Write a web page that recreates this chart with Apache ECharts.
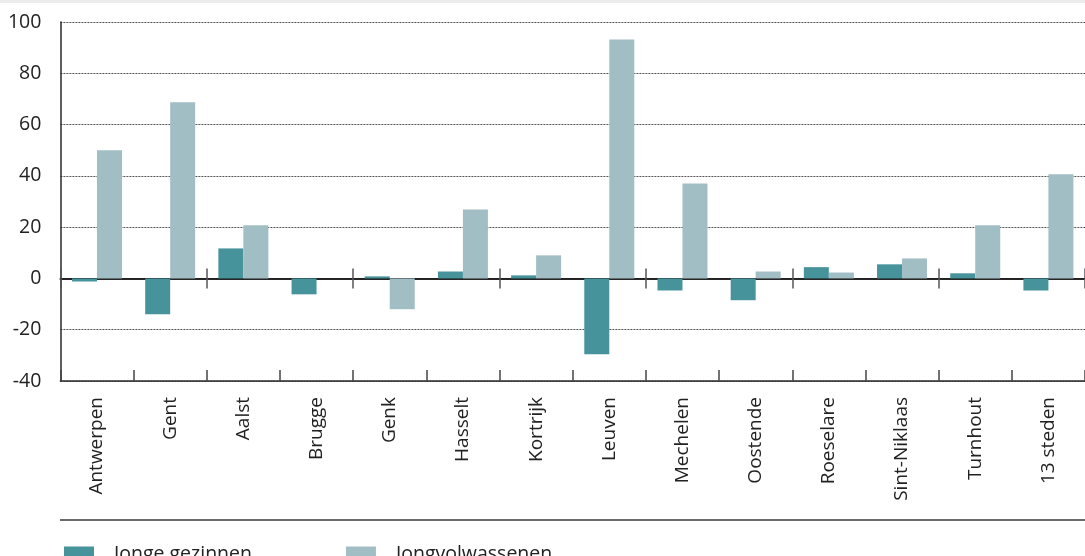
<!DOCTYPE html>
<html>
<head>
<meta charset="utf-8">
<script src="https://cdn.jsdelivr.net/npm/echarts@6/dist/echarts.min.js"></script>
<style>
html,body{margin:0;padding:0;background:#fff;}
#chart{width:1085px;height:556px;}
</style>
</head>
<body>
<div id="chart"></div>
<script>
const categories = ['Antwerpen','Gent','Aalst','Brugge','Genk','Hasselt','Kortrijk','Leuven','Mechelen','Oostende','Roeselare','Sint-Niklaas','Turnhout','13 steden'];
const jongeGezinnen = [-1.2, -14.0, 11.7, -6.2, 0.8, 2.7, 1.2, -29.6, -4.7, -8.5, 4.4, 5.5, 2.0, -4.7];
const jongvolwassenen = [50.0, 68.7, 20.7, 0, -12.0, 26.9, 9.0, 93.2, 37.0, 2.7, 2.3, 7.8, 20.7, 40.6];
const seriesNames = ['Jonge gezinnen', 'Jongvolwassenen'];
const yMin = -40, yMax = 100, yStep = 20;

const FONT = '"Open Sans", "Noto Sans", sans-serif';
const chart = echarts.init(document.getElementById('chart'), null, {renderer: 'canvas'});

function zeroAxis(inside, yIndex) {
  return {
    type: 'category', data: categories, position: 'top',
    axisLine: {onZero: true, onZeroAxisIndex: yIndex, lineStyle: {color: '#1a1a1a', width: 1.5}},
    axisLabel: {show: false}, splitLine: {show: false},
    axisTick: {show: true, inside: inside, length: 10, lineStyle: {color: '#555', width: 1.5}}
  };
}

chart.setOption({
  animation: false,
  backgroundColor: '#fff',
  grid: {left: 60.4, right: -10, top: 22, bottom: 175, containLabel: false},
  xAxis: [
    {
      type: 'category', data: categories, position: 'bottom',
      axisLine: {onZero: false, lineStyle: {color: '#2a2a2a', width: 1.5}},
      axisTick: {show: true, inside: true, length: 11, lineStyle: {color: '#444', width: 1.5}},
      axisLabel: {rotate: 90, margin: 16, fontSize: 19, color: '#222', fontFamily: FONT},
      splitLine: {show: false}
    },
    zeroAxis(false, 0),
    zeroAxis(true, 1)
  ],
  yAxis: [
    {
      type: 'value', min: yMin, max: yMax, interval: yStep, position: 'left',
      axisLine: {show: true, lineStyle: {color: '#2a2a2a', width: 1.5}},
      axisTick: {show: false},
      axisLabel: {margin: 19, fontSize: 19.5, color: '#222', fontFamily: FONT},
      splitLine: {show: true, lineStyle: {color: '#555', type: [2, 1], width: 1}}
    },
    {
      type: 'value', min: yMin, max: yMax, interval: yStep, position: 'right', show: false,
      splitLine: {show: false}
    }
  ],
  legend: {
    left: 59, top: 539, itemWidth: 30, itemHeight: 15, itemGap: 94,
    icon: 'rect',
    textStyle: {fontSize: 19.5, color: '#222', fontFamily: FONT, padding: [0, 0, 0, 15]},
    data: seriesNames
  },
  graphic: [
    {type: 'rect', left: 0, top: 0, shape: {width: 1085, height: 3}, style: {fill: '#ececec'}, silent: true},
    {type: 'line', shape: {x1: 60, y1: 520, x2: 1085, y2: 520}, style: {stroke: '#3a3a3a', lineWidth: 1.5}, silent: true}
  ],
  series: [
    {name: seriesNames[0], type: 'bar', data: jongeGezinnen, barWidth: 25, barGap: '0%',
     itemStyle: {color: '#46939b'}, z: 1},
    {name: seriesNames[1], type: 'bar', data: jongvolwassenen, barWidth: 25, barGap: '0%',
     itemStyle: {color: '#a2bec5'}, z: 1}
  ]
});
</script>
</body>
</html>
